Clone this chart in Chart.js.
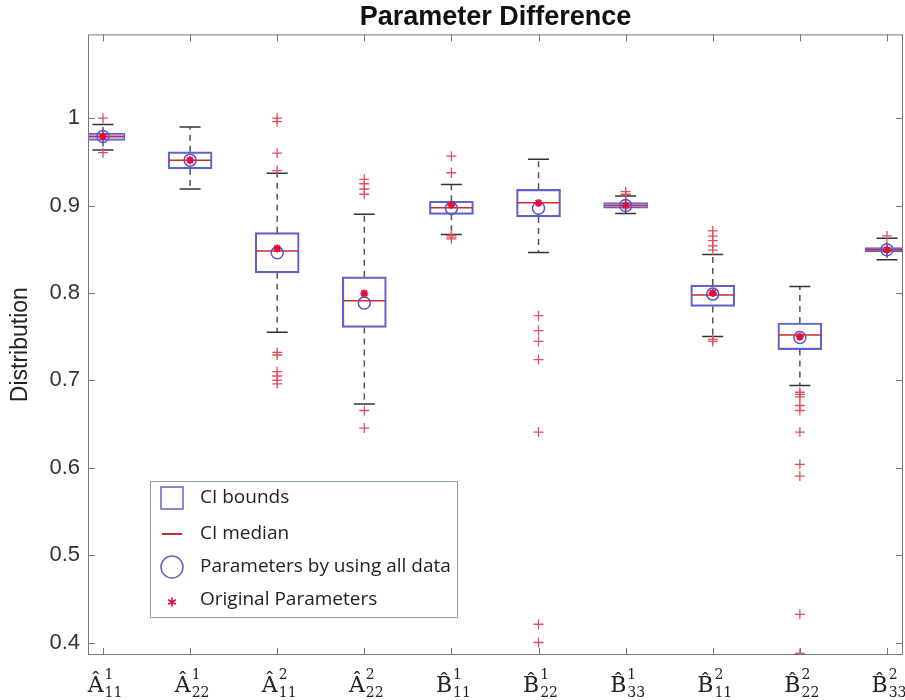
<!DOCTYPE html>
<html>
<head>
<meta charset="utf-8">
<script src="https://cdn.jsdelivr.net/npm/chart.js@4.4.1/dist/chart.umd.min.js"></script>
<style>
  body { margin: 0; background: #fff; }
  canvas { display: block; }
</style>
</head>
<body>
<canvas id="boxChart" width="905" height="700"></canvas>
<script>
// category labels: hat letter, superscript, subscript
var paramBase = ['A', 'A', 'A', 'A', 'B', 'B', 'B', 'B', 'B', 'B'];
var paramSup  = ['1', '1', '2', '2', '1', '1', '1', '2', '2', '2'];
var paramSub  = ['11', '22', '11', '22', '11', '22', '33', '11', '22', '33'];

// box plot stats
var q1Values     = [0.9745, 0.942, 0.823, 0.7606, 0.890, 0.887, 0.897, 0.7846, 0.7352, 0.847];
var medianValues = [0.979, 0.952, 0.848, 0.791, 0.8976, 0.9033, 0.900, 0.7976, 0.752, 0.8495];
var q3Values     = [0.983, 0.9615, 0.869, 0.8185, 0.905, 0.9186, 0.9033, 0.809, 0.7656, 0.852];
var whiskerLow   = [0.9635, 0.919, 0.755, 0.673, 0.867, 0.8462, 0.8908, 0.7503, 0.694, 0.838];
var whiskerHigh  = [0.9928, 0.990, 0.937, 0.890, 0.924, 0.9529, 0.911, 0.844, 0.8074, 0.8627];
var allDataEst   = [0.979, 0.952, 0.846, 0.7885, 0.897, 0.897, 0.900, 0.7987, 0.749, 0.8495];
var originalParams = [0.979, 0.952, 0.851, 0.7995, 0.9007, 0.903, 0.900, 0.800, 0.750, 0.8495];
var outlierValues = [
  [1.0, 0.9605],
  [],
  [1.0, 0.996, 0.960, 0.940, 0.732, 0.729, 0.710, 0.705, 0.700, 0.696],
  [0.930, 0.925, 0.919, 0.913, 0.6655, 0.6454],
  [0.9566, 0.9376, 0.866, 0.864, 0.862],
  [0.774, 0.757, 0.7446, 0.7237, 0.6408, 0.4209, 0.400],
  [0.9159, 0.913],
  [0.871, 0.865, 0.860, 0.854, 0.849, 0.747, 0.7446],
  [0.6864, 0.684, 0.681, 0.6712, 0.6655, 0.6408, 0.6039, 0.5905, 0.4323, 0.3875],
  [0.8653]
];
var yTicks = [0.4, 0.5, 0.6, 0.7, 0.8, 0.9, 1];

var boxBlue = '#6262c6';
var medianRed = '#cc2b2b';

// build datasets from the arrays
var boxData = [], medianData = [], capData = [], whiskerData = [];
var outlierData = [], circleData = [], starData = [];
for (var i = 0; i < paramBase.length; i++) {
    var x = i + 1;
    boxData.push({ x: x, y: [q1Values[i], q3Values[i]] });
    medianData.push({ x: x, y: medianValues[i] });
    capData.push({ x: x, y: whiskerLow[i] }, { x: x, y: whiskerHigh[i] });
    whiskerData.push({ x: x, y: q3Values[i] }, { x: x, y: whiskerHigh[i] }, { x: x, y: null });
    whiskerData.push({ x: x, y: q1Values[i] }, { x: x, y: whiskerLow[i] }, { x: x, y: null });
    outlierValues[i].forEach(function (v) { outlierData.push({ x: x, y: v }); });
    circleData.push({ x: x, y: allDataEst[i] });
    starData.push({ x: x, y: originalParams[i] });
}

// frame + inward tick marks, matlab style
var frameTicks = {
    id: 'frameTicks',
    afterDatasetsDraw: function (chart) {
        var c = chart.ctx, a = chart.chartArea;
        var xs = chart.scales.x, ys = chart.scales.y;
        c.save();
        c.strokeStyle = '#777';
        c.lineWidth = 1;
        c.strokeRect(a.left + 0.5, a.top + 0.5, a.right - a.left - 1, a.bottom - a.top - 1);
        c.beginPath();
        yTicks.forEach(function (t) {
            var py = Math.round(ys.getPixelForValue(t)) + 0.5;
            c.moveTo(a.left, py); c.lineTo(a.left + 7, py);
            c.moveTo(a.right, py); c.lineTo(a.right - 7, py);
        });
        for (var k = 1; k <= paramBase.length; k++) {
            var px = Math.round(xs.getPixelForValue(k)) + 0.5;
            c.moveTo(px, a.bottom); c.lineTo(px, a.bottom - 7);
            c.moveTo(px, a.top); c.lineTo(px, a.top + 7);
        }
        c.stroke();
        c.restore();
    }
};

// x labels like \hat{A}^{1}_{11}
var xLabels = {
    id: 'xLabels',
    afterDraw: function (chart) {
        var c = chart.ctx, xs = chart.scales.x;
        c.save();
        c.fillStyle = '#222';
        c.textBaseline = 'alphabetic';
        c.textAlign = 'left';
        for (var k = 0; k < paramBase.length; k++) {
            var main = paramBase[k] === 'A' ? '\u00C2' : 'B\u0302';
            c.font = '22px "DejaVu Serif"';
            var w1 = c.measureText(main).width;
            c.font = '14px "DejaVu Serif"';
            var w2 = Math.max(c.measureText(paramSup[k]).width, c.measureText(paramSub[k]).width);
            var px = xs.getPixelForValue(k + 1);
            var x0 = px - (w1 + 1 + w2) / 2 + 2;
            c.font = '22px "DejaVu Serif"';
            c.fillText(main, x0, 692);
            c.font = '14px "DejaVu Serif"';
            c.fillText(paramSup[k], x0 + w1 + 1, 679);
            c.fillText(paramSub[k], x0 + w1 + 1, 697);
        }
        c.restore();
    }
};

// legend box inside the plot, lower left
var legendBox = {
    id: 'legendBox',
    afterDraw: function (chart) {
        var c = chart.ctx;
        var bx = 150, by = 481, bw = 307, bh = 136;
        c.save();
        c.fillStyle = '#fff';
        c.fillRect(bx, by, bw, bh);
        c.strokeStyle = '#8a9bb5';
        c.lineWidth = 1;
        c.strokeRect(bx + 0.5, by + 0.5, bw, bh);

        var ix = 172, tx = 200;
        var rows = [498, 534, 567, 600];
        // CI bounds
        c.strokeStyle = boxBlue; c.lineWidth = 1.5;
        c.strokeRect(161, rows[0] - 11, 22, 22);
        // CI median
        c.strokeStyle = medianRed; c.lineWidth = 2;
        c.beginPath(); c.moveTo(162, rows[1]); c.lineTo(182, rows[1]); c.stroke();
        // circle
        c.strokeStyle = boxBlue; c.lineWidth = 1.5;
        c.beginPath(); c.arc(ix, rows[2], 11, 0, Math.PI * 2); c.stroke();
        // asterisk
        c.strokeStyle = '#e0103c'; c.lineWidth = 1.6;
        c.beginPath();
        for (var a = 0; a < 3; a++) {
            var ang = Math.PI / 2 + a * Math.PI / 3;
            c.moveTo(ix - Math.cos(ang) * 4.5, rows[3] + 2 - Math.sin(ang) * 4.5);
            c.lineTo(ix + Math.cos(ang) * 4.5, rows[3] + 2 + Math.sin(ang) * 4.5);
        }
        c.stroke();

        c.fillStyle = '#222';
        c.font = '19px "Open Sans"';
        c.textBaseline = 'middle';
        c.textAlign = 'left';
        c.fillText('CI bounds', tx, rows[0]);
        c.fillText('CI median', tx, rows[1]);
        c.fillText('Parameters by using all data', tx, rows[2]);
        c.fillText('Original Parameters', tx, rows[3]);
        c.restore();
    }
};

var ctx = document.getElementById('boxChart').getContext('2d');
var chart = new Chart(ctx, {
    type: 'scatter',
    data: {
        datasets: [
            {
                type: 'bar',
                data: boxData,
                backgroundColor: function (context) {
                    var i = context.dataIndex;
                    if (q3Values[i] - q1Values[i] < 0.01) return 'rgba(196,160,236,0.75)';
                    return 'rgba(0,0,0,0)';
                },
                borderColor: boxBlue,
                borderWidth: 1.5,
                borderSkipped: false,
                barThickness: 44,
                clip: 0,
                order: 6
            },
            {
                type: 'line',
                data: whiskerData,
                borderColor: '#555',
                borderWidth: 1.5,
                borderDash: [6, 5],
                pointRadius: 0,
                spanGaps: false,
                fill: false,
                clip: 0,
                order: 5
            },
            {
                data: medianData,
                pointStyle: 'line',
                pointRadius: 21,
                borderColor: medianRed,
                borderWidth: 1.5,
                clip: 0,
                order: 4
            },
            {
                data: capData,
                pointStyle: 'line',
                pointRadius: 10.5,
                borderColor: '#333',
                borderWidth: 1.5,
                clip: 0,
                order: 3
            },
            {
                data: outlierData,
                pointStyle: 'cross',
                pointRadius: 5,
                borderColor: '#e0505a',
                borderWidth: 1.3,
                clip: 0,
                order: 2
            },
            {
                data: circleData,
                pointStyle: 'circle',
                pointRadius: 6,
                backgroundColor: 'rgba(0,0,0,0)',
                borderColor: '#5555cc',
                borderWidth: 1.5,
                clip: 0,
                order: 1
            },
            {
                data: starData,
                pointStyle: 'star',
                pointRadius: 4,
                borderColor: '#e0103c',
                borderWidth: 2,
                clip: 0,
                order: 0
            }
        ]
    },
    options: {
        responsive: false,
        animation: false,
        layout: { autoPadding: false, padding: { top: 1, right: 2, bottom: 45, left: 0 } },
        scales: {
            x: {
                type: 'linear',
                display: false,
                offset: false,
                min: 0.828,
                max: 10.184,
                ticks: { display: false, includeBounds: false }
            },
            y: {
                type: 'linear',
                min: 0.3857,
                max: 1.0959,
                afterFit: function (scale) { scale.width = 88; },
                grid: { display: false, drawTicks: false },
                border: { display: false },
                ticks: {
                    stepSize: 0.1,
                    includeBounds: false,
                    padding: 8,
                    color: '#333',
                    font: { family: '"Liberation Sans", Arial', size: 22 },
                    callback: function (v) { return String(+v.toFixed(1)); }
                },
                title: {
                    display: true,
                    text: 'Distribution',
                    color: '#222',
                    padding: { top: 7, bottom: 0 },
                    font: { family: '"Liberation Sans", Arial', size: 23 }
                }
            }
        },
        plugins: {
            legend: { display: false },
            tooltip: { enabled: false },
            title: {
                display: true,
                fullSize: false,
                text: 'Parameter Difference',
                color: '#111',
                padding: { top: 0, bottom: 1 },
                font: { family: '"Liberation Sans", Arial', size: 27, weight: 'bold' }
            }
        }
    },
    plugins: [frameTicks, xLabels, legendBox]
});
</script>
</body>
</html>
